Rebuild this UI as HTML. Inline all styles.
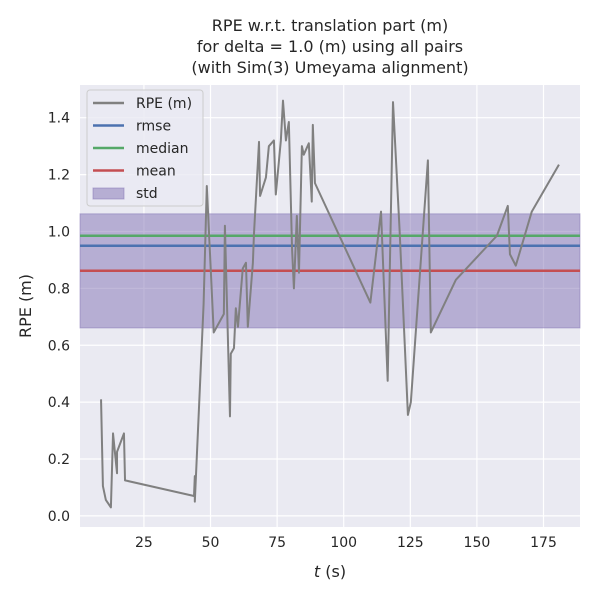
<!DOCTYPE html>
<html><head><meta charset="utf-8"><style>
body{margin:0;background:#fff;font-family:"Liberation Sans","DejaVu Sans",sans-serif;}
</style></head><body>
<svg id="chart" width="600" height="600" xmlns="http://www.w3.org/2000/svg" font-family="DejaVu Sans, Liberation Sans, sans-serif"></svg>
<script>
const times=[8.9,9.6,10.7,12.6,13.4,14.9,14.9,17.5,17.9,43.8,44.1,44.1,47.4,48.6,51.2,55.0,55.4,57.3,57.6,58.8,59.5,60.3,62.1,63.3,64.0,65.9,66.3,68.2,68.6,70.8,71.9,73.8,74.5,76.4,77.2,78.3,79.4,80.6,81.3,82.4,83.2,84.3,85.0,86.9,88.0,88.4,89.2,110.0,114.0,116.5,118.5,121.0,124.1,125.2,131.6,132.7,142.1,157.5,161.6,162.4,164.6,170.6,180.8];
const rpe=[0.41,0.105,0.056,0.03,0.29,0.15,0.225,0.29,0.125,0.07,0.14,0.05,0.745,1.16,0.645,0.71,1.02,0.35,0.57,0.59,0.73,0.665,0.87,0.89,0.665,0.89,0.99,1.315,1.125,1.19,1.30,1.32,1.13,1.32,1.46,1.32,1.385,0.94,0.80,1.055,0.855,1.30,1.27,1.31,1.105,1.375,1.17,0.75,1.07,0.475,1.455,1.00,0.355,0.40,1.25,0.645,0.83,0.985,1.09,0.92,0.88,1.07,1.235];
const rmse=0.95, median=0.985, mean=0.862, stdLow=0.661, stdHigh=1.062;
const xTicks=[25,50,75,100,125,150,175];
const yTicks=[0.0,0.2,0.4,0.6,0.8,1.0,1.2,1.4];
const L=80,R=580,T=85,B=527, xMin=1.0,xMax=188.7,yMin=-0.039,yMax=1.515;
const X=t=>L+(t-xMin)/(xMax-xMin)*(R-L);
const Y=v=>B-(v-yMin)/(yMax-yMin)*(B-T);
const svg=document.getElementById('chart');
const NS='http://www.w3.org/2000/svg';
function mk(tag,attrs,parent){const e=document.createElementNS(NS,tag);for(const k in attrs)e.setAttribute(k,attrs[k]);(parent||svg).appendChild(e);return e;}
let e;
e=mk('rect',{x:L,y:T,width:R-L,height:B-T,fill:'#eaeaf2'});


xTicks.forEach(t=>{
 e=mk('line',{x1:X(t),x2:X(t),y1:T,y2:B,stroke:'#fff','stroke-width':1.2});
 
 
 e=mk('text',{x:X(t),y:B+20,'text-anchor':'middle','font-size':14,fill:'#262626'});e.textContent=t;
 
 
});
yTicks.forEach(v=>{
 e=mk('line',{x1:L,x2:R,y1:Y(v),y2:Y(v),stroke:'#fff','stroke-width':1.2});
 
 
 e=mk('text',{x:L-10,y:Y(v)+5,'text-anchor':'end','font-size':14,fill:'#262626'});e.textContent=v.toFixed(1);
 
 
});
e=mk('rect',{x:L,y:Y(stdHigh),width:R-L,height:Y(stdLow)-Y(stdHigh),fill:'#8172b3','fill-opacity':0.5,stroke:'#8172b3','stroke-opacity':0.5});


[[rmse,'#4c72b0','rmse-line'],[median,'#55a868','median-line'],[mean,'#c44e52','mean-line']].forEach(([v,c,n])=>{
 e=mk('line',{x1:L,x2:R,y1:Y(v),y2:Y(v),stroke:c,'stroke-width':2.5});
 
 
});
e=mk('polyline',{points:times.map((t,i)=>X(t)+','+Y(rpe[i])).join(' '),fill:'none',stroke:'#808080','stroke-width':2,'stroke-linejoin':'round'});


['RPE w.r.t. translation part (m)','for delta = 1.0 (m) using all pairs','(with Sim(3) Umeyama alignment)'].forEach((s,i)=>{
 e=mk('text',{x:330,y:31+i*21,'text-anchor':'middle','font-size':16,fill:'#262626'});e.textContent=s;
 
 
});
e=mk('text',{x:330,y:577,'text-anchor':'middle','font-size':16,fill:'#262626'});
e.innerHTML='<tspan font-style="italic">t</tspan> (s)';


e=mk('text',{x:31,y:306,'text-anchor':'middle','font-size':16,fill:'#262626',transform:'rotate(-90 31 306)'});e.textContent='RPE (m)';


const lg=mk('g',{});


mk('rect',{x:87,y:90,width:116,height:116,rx:3,fill:'#eaeaf2','fill-opacity':0.8,stroke:'#cccccc'},lg);
const items=[['RPE (m)','#808080','line'],['rmse','#4c72b0','line'],['median','#55a868','line'],['mean','#c44e52','line'],['std','#8172b3','patch']];
items.forEach(([lab,c,k],i)=>{
 const y=103+i*22.5;
 if(k==='line'){e=mk('line',{x1:93,x2:124,y1:y,y2:y,stroke:c,'stroke-width':2.5},lg);}
 else{e=mk('rect',{x:93,y:y-5,width:31,height:11,fill:c,'fill-opacity':0.5,stroke:c,'stroke-opacity':0.5},lg);}
 
 
 e=mk('text',{x:136,y:y+5,'font-size':14,fill:'#262626'},lg);e.textContent=lab;
 
 
});
</script>
</body></html>
